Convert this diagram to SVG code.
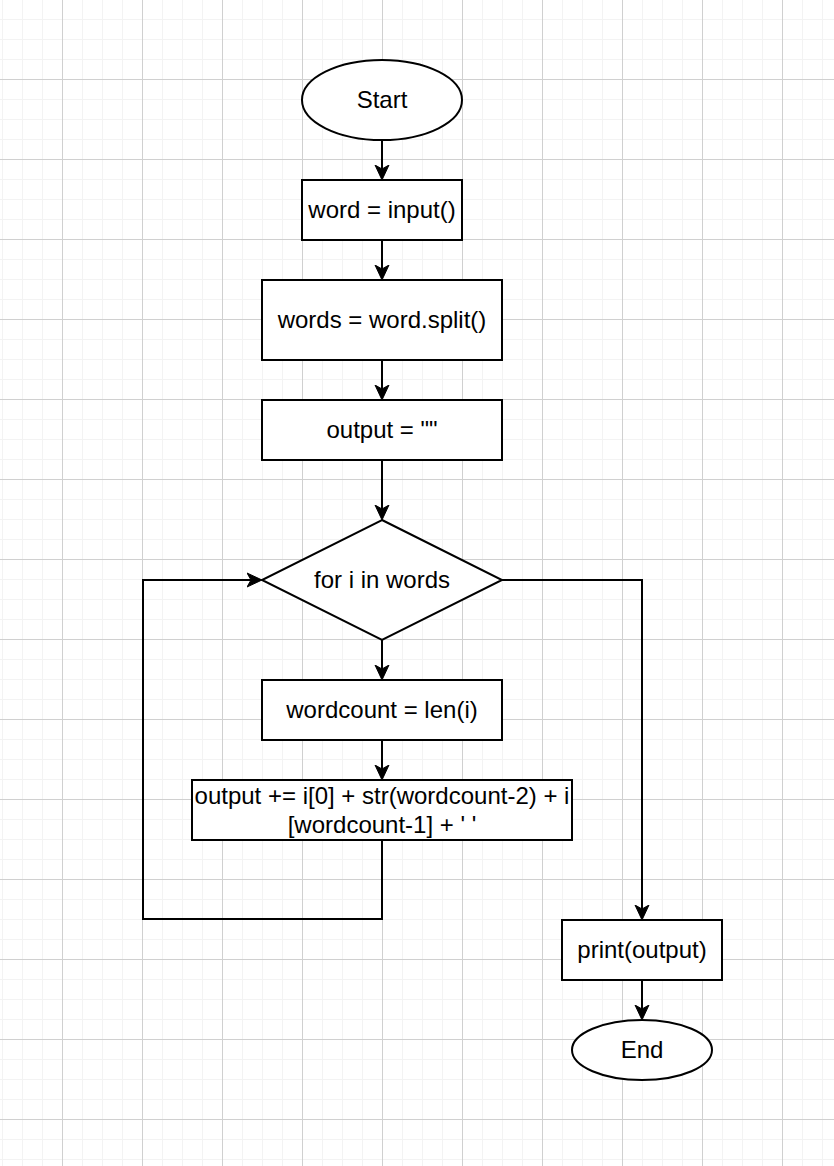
<svg xmlns="http://www.w3.org/2000/svg" width="834" height="1166" viewBox="0 0 834 1166">
<style>
.s{fill:#fff;stroke:#000;stroke-width:2}
.t{font-family:"Liberation Sans",Arial,Helvetica,sans-serif;font-size:24px;fill:#000;text-anchor:middle}
.c{fill:none;stroke:#000;stroke-width:2;marker-end:url(#arr)}
.mi{stroke:#f3f3f3;stroke-width:1}
.ma{stroke:#d0d0d0;stroke-width:1}
</style>
<defs>
<pattern id="grid" patternUnits="userSpaceOnUse" x="2" y="-1" width="80" height="80">
<line class="mi" x1="0.5" y1="0" x2="0.5" y2="80"/>
<line class="mi" x1="20.5" y1="0" x2="20.5" y2="80"/>
<line class="mi" x1="40.5" y1="0" x2="40.5" y2="80"/>
<line class="mi" x1="0" y1="20.5" x2="80" y2="20.5"/>
<line class="mi" x1="0" y1="40.5" x2="80" y2="40.5"/>
<line class="mi" x1="0" y1="60.5" x2="80" y2="60.5"/>
<line class="ma" x1="60.5" y1="0" x2="60.5" y2="80"/>
<line class="ma" x1="0" y1="0.5" x2="80" y2="0.5"/>
</pattern>
<marker id="arr" markerUnits="userSpaceOnUse" viewBox="0 0 16 16" refX="4" refY="8" markerWidth="16" markerHeight="16" orient="auto">
<path d="M15,8 L0,1 L4,8 L0,15 Z" fill="#000" stroke="#000" stroke-width="1" stroke-linejoin="miter"/>
</marker>
</defs>
<rect width="834" height="1166" fill="#fff"/>
<rect width="834" height="1166" fill="url(#grid)"/>
<g id="connectors">
<path class="c" d="M382,140 V169"/>
<path class="c" d="M382,240 V269"/>
<path class="c" d="M382,360 V389"/>
<path class="c" d="M382,460 V509"/>
<path class="c" d="M382,640 V669"/>
<path class="c" d="M382,740 V769"/>
<path class="c" d="M382,840 V919 H143 V580 H251"/>
<path class="c" d="M502,580 H642 V909"/>
<path class="c" d="M642,980 V1009"/>
</g>
<g id="start"><ellipse class="s" cx="382" cy="100" rx="80" ry="40"/><text class="t" x="382" y="108">Start</text></g>
<g id="input"><rect class="s" x="302" y="180" width="160" height="60"/><text class="t" x="382" y="218">word = input()</text></g>
<g id="split"><rect class="s" x="262" y="280" width="240" height="80"/><text class="t" x="382" y="328">words = word.split()</text></g>
<g id="init"><rect class="s" x="262" y="400" width="240" height="60"/><text class="t" x="382" y="438">output = ""</text></g>
<g id="loop"><path class="s" d="M382,520 L502,580 L382,640 L262,580 Z"/><text class="t" x="382" y="588">for i in words</text></g>
<g id="count"><rect class="s" x="262" y="680" width="240" height="60"/><text class="t" x="382" y="718">wordcount = len(i)</text></g>
<g id="append"><rect class="s" x="192" y="780" width="380" height="60"/><text class="t" x="382" y="804">output += i[0] + str(wordcount-2) + i</text><text class="t" x="382" y="833">[wordcount-1] + ' '</text></g>
<g id="print"><rect class="s" x="562" y="920" width="160" height="60"/><text class="t" x="642" y="958">print(output)</text></g>
<g id="end"><ellipse class="s" cx="642" cy="1050" rx="70" ry="30"/><text class="t" x="642" y="1058">End</text></g>
</svg>
